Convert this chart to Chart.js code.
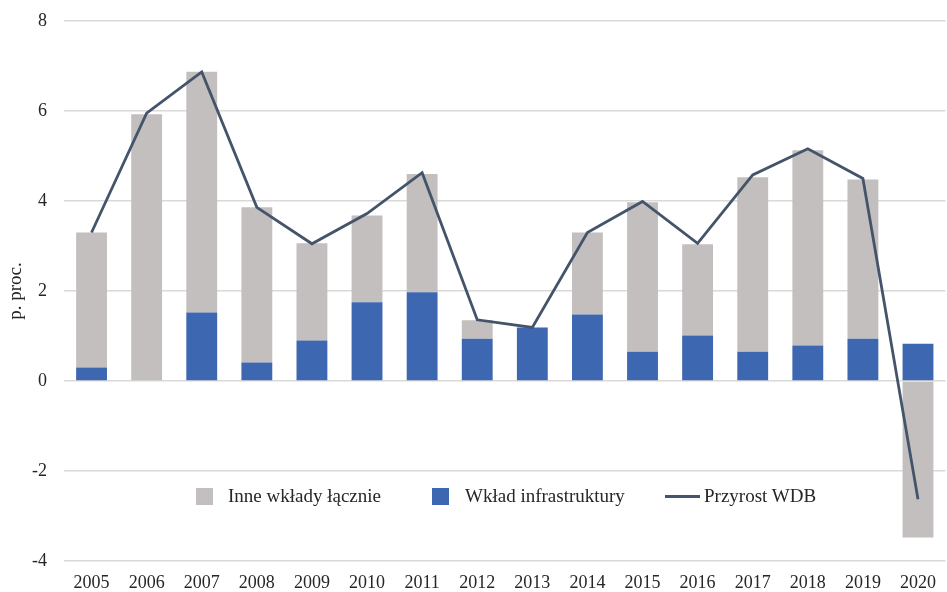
<!DOCTYPE html>
<html lang="pl">
<head>
<meta charset="utf-8">
<title>Wkład infrastruktury do przyrostu WDB</title>
<script src="https://cdn.jsdelivr.net/npm/chart.js@4.4.1/dist/chart.umd.min.js"></script>
<style>
	html, body { margin: 0; padding: 0; background: #fff; }
	#wrap { position: relative; width: 947px; height: 592px; }
	#legend {
		position: absolute; left: 0; top: 484px; width: 947px; height: 24px;
		font-family: 'Liberation Serif', 'Times New Roman', serif; font-size: 19px; color: #262626;
	}
	#legend .item { position: absolute; top: 0; height: 24px; line-height: 24px; white-space: nowrap; }
	#legend .box { position: absolute; top: 4px; width: 17px; height: 17px; }
	#legend .ln { position: absolute; top: 11px; width: 35px; height: 3px; }
	#legend .txt { position: absolute; top: 0; }
</style>
</head>
<body>
<div id="wrap">
	<canvas id="chart" width="947" height="592"></canvas>
	<div id="legend">
		<div class="item" style="left:196px"><span class="box" style="left:0;background:#c3bfbe"></span><span class="txt" style="left:32px">Inne wkłady łącznie</span></div>
		<div class="item" style="left:432px"><span class="box" style="left:0;background:#3d67b0"></span><span class="txt" style="left:33px">Wkład infrastruktury</span></div>
		<div class="item" style="left:665px"><span class="ln" style="left:0;background:#44546a"></span><span class="txt" style="left:39px">Przyrost WDB</span></div>
	</div>
</div>
<script>
(() => {
	'use strict'

	const years = ['2005', '2006', '2007', '2008', '2009', '2010', '2011', '2012',
		'2013', '2014', '2015', '2016', '2017', '2018', '2019', '2020'];

	// contributions in percentage points
	const infrastruktura = [0.30, 0.00, 1.52, 0.41, 0.90, 1.75, 1.97, 0.94,
		1.19, 1.48, 0.65, 1.01, 0.65, 0.79, 0.94, 0.83];
	const inneWklady = [3.00, 5.93, 5.35, 3.45, 2.16, 1.93, 2.63, 0.41,
		0.00, 1.82, 3.32, 2.03, 3.88, 4.34, 3.54, -3.48];
	const przyrostWDB = [3.30, 5.95, 6.87, 3.86, 3.05, 3.72, 4.63, 1.36,
		1.19, 3.30, 3.99, 3.06, 4.58, 5.16, 4.50, -2.63];

	const yTicks = [-4, -2, 0, 2, 4, 6, 8];

	const fontFamily = "'Liberation Serif', 'Times New Roman', serif";
	const textColor = '#262626';
	const gridColor = '#d9d9d9';

	const config = {
		type: 'bar',
		data: {
			labels: years,
			datasets: [
				{
					label: 'Wkład infrastruktury',
					data: infrastruktura,
					backgroundColor: '#3d67b0',
					stack: 'wklad',
					order: 2,
					barPercentage: 0.56,
					categoryPercentage: 1
				},
				{
					label: 'Inne wkłady łącznie',
					data: inneWklady,
					backgroundColor: '#c3bfbe',
					stack: 'wklad',
					order: 2,
					barPercentage: 0.56,
					categoryPercentage: 1
				},
				{
					type: 'line',
					label: 'Przyrost WDB',
					data: przyrostWDB,
					borderColor: '#44546a',
					borderWidth: 2.8,
					pointRadius: 0,
					tension: 0,
					fill: false,
					order: 1
				}
			]
		},
		options: {
			responsive: false,
			animation: false,
			layout: { padding: { top: 21, right: 0, bottom: 0, left: 0 } },
			plugins: {
				legend: { display: false },
				tooltip: { enabled: false }
			},
			scales: {
				x: {
					stacked: true,
					grid: { display: false, drawTicks: false },
					border: { display: false },
					ticks: {
						color: textColor,
						font: { family: fontFamily, size: 18 },
						padding: 11,
						maxRotation: 0,
						autoSkip: false
					},
					afterFit: (scale) => { scale.height = 31; }
				},
				y: {
					stacked: true,
					min: -4,
					max: 8,
					afterBuildTicks: (scale) => {
						scale.ticks = yTicks.map((v) => ({ value: v }));
					},
					// invisible tick marks keep the labels away from the plot
					grid: { color: gridColor, lineWidth: 1.5, drawTicks: true, tickLength: 14, tickColor: 'rgba(0,0,0,0)' },
					border: { display: false },
					ticks: {
						color: textColor,
						font: { family: fontFamily, size: 18 },
						padding: 3
					},
					title: {
						display: true,
						text: 'p. proc.',
						color: textColor,
						font: { family: fontFamily, size: 19 },
						padding: { top: 5, bottom: 0 }
					},
					afterFit: (scale) => { scale.width = 64; }
				}
			}
		}
	};

	new Chart(document.getElementById('chart'), config);
})()
</script>
</body>
</html>
